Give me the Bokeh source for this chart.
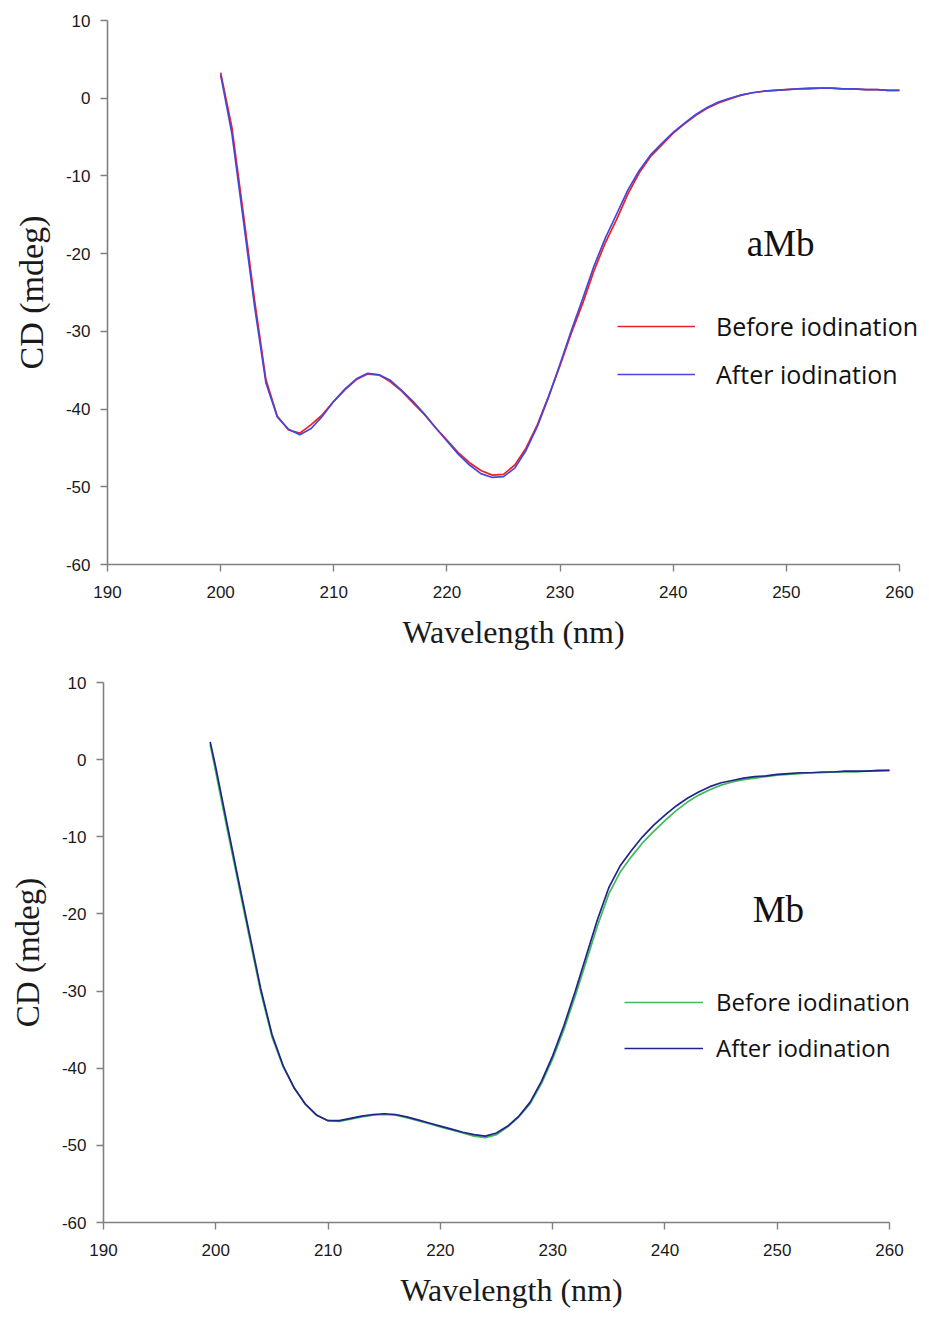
from bokeh.plotting import figure
from bokeh.models import Range1d, FixedTicker, Legend, LegendItem, Label
from bokeh.embed import file_html
from bokeh.resources import INLINE

# ---------------- data ----------------
x_ticks = [190, 200, 210, 220, 230, 240, 250, 260]
y_ticks = [10, 0, -10, -20, -30, -40, -50, -60]

# aMb panel
wl_amb = list(range(200, 261))
amb_before = [3.3, -3.8, -14.8, -26.0, -36.2, -40.9, -42.7, -43.1, -42.0, -40.7,
              -39.0, -37.5, -36.2, -35.5, -35.6, -36.5, -37.7, -39.2, -40.7, -42.4,
              -44.0, -45.6, -46.9, -47.9, -48.5, -48.4, -47.2, -45.0, -42.0, -38.3,
              -34.4, -30.2, -26.4, -22.2, -18.6, -15.6, -12.3, -9.6, -7.5, -6.0,
              -4.5, -3.3, -2.2, -1.3, -0.6, -0.1, 0.4, 0.7, 0.9, 1.0,
              1.1, 1.2, 1.2, 1.3, 1.3, 1.2, 1.2, 1.1, 1.1, 1.0, 1.0]
amb_after = [3.0, -4.6, -15.6, -26.8, -36.6, -41.0, -42.6, -43.3, -42.5, -40.9,
             -39.0, -37.4, -36.1, -35.4, -35.6, -36.3, -37.6, -39.0, -40.6, -42.4,
             -44.1, -45.8, -47.2, -48.3, -48.8, -48.7, -47.6, -45.3, -42.2, -38.4,
             -34.2, -29.9, -25.8, -21.6, -18.0, -14.9, -11.8, -9.3, -7.3, -5.8,
             -4.4, -3.2, -2.1, -1.2, -0.5, 0.0, 0.4, 0.7, 0.9, 1.0,
             1.1, 1.2, 1.3, 1.3, 1.3, 1.2, 1.2, 1.1, 1.1, 1.0, 1.0]

# Mb panel
wl_mb = [199.5] + list(range(200, 261))
mb_before = [2.0, -1.6, -8.9, -16.0, -23.1, -30.1, -35.9, -39.8, -42.6, -44.7, -46.1,
             -46.8, -46.9, -46.6, -46.3, -46.1, -46.0, -46.1, -46.4, -46.8, -47.2,
             -47.6, -48.0, -48.4, -48.8, -49.0, -48.6, -47.6, -46.3, -44.6, -42.0,
             -38.8, -35.0, -30.7, -26.1, -21.5, -17.4, -14.6, -12.6, -10.8, -9.3,
             -7.9, -6.6, -5.5, -4.6, -3.9, -3.3, -2.9, -2.6, -2.4, -2.2,
             -2.0, -1.9, -1.8, -1.7, -1.7, -1.6, -1.6, -1.6, -1.5, -1.5, -1.4]
mb_after = [2.3, -1.0, -8.3, -15.5, -22.6, -29.7, -35.6, -39.7, -42.6, -44.7, -46.1,
            -46.8, -46.8, -46.5, -46.2, -46.0, -45.9, -46.0, -46.3, -46.7, -47.1,
            -47.5, -47.9, -48.3, -48.6, -48.8, -48.4, -47.5, -46.2, -44.4, -41.7,
            -38.4, -34.5, -30.1, -25.4, -20.7, -16.6, -13.8, -11.8, -10.0, -8.5,
            -7.2, -6.0, -5.0, -4.2, -3.5, -3.0, -2.7, -2.4, -2.2, -2.1,
            -1.9, -1.8, -1.7, -1.7, -1.6, -1.6, -1.5, -1.5, -1.5, -1.4, -1.4]

series_labels = ["Before iodination", "After iodination"]

SANS = "Liberation Sans"
SERIF = "Liberation Serif"
LEGEND_FONT = "Open Sans"


def panel(wl, before, after, colors, name, name_xy, x_end, ylabel_size,
          legend_size, height, borders, legend_loc, glyph_w, standoff, spacing):
    top, right, bottom, left = borders
    p = figure(width=921, height=height, output_backend="svg", toolbar_location=None,
               x_range=Range1d(190, x_end), y_range=Range1d(-60, 10),
               min_border_top=top, min_border_right=right,
               min_border_bottom=bottom, min_border_left=left)
    p.outline_line_color = None
    p.xgrid.grid_line_color = None
    p.ygrid.grid_line_color = None
    p.background_fill_color = "white"
    p.border_fill_color = "white"

    for ax, ticks in ((p.xaxis, x_ticks), (p.yaxis, y_ticks)):
        ax.ticker = FixedTicker(ticks=ticks)
        ax.major_label_overrides = {t: str(t) for t in ticks}
        ax.minor_tick_line_color = None
        ax.axis_line_color = "#808080"
        ax.axis_line_width = 1.6
        ax.major_tick_line_color = "#808080"
        ax.major_tick_line_width = 1.4
        ax.major_tick_in = 0
        ax.major_tick_out = 7
        ax.major_label_text_font = SANS
        ax.major_label_text_font_size = "17px"
        ax.major_label_text_color = "#1a1a1a"
    p.xaxis.bounds = (190, 260)
    p.xaxis.major_label_standoff = 14
    p.yaxis.major_label_standoff = 10

    p.yaxis.axis_label = "CD (mdeg)"
    p.yaxis.axis_label_text_font = SERIF
    p.yaxis.axis_label_text_font_style = "normal"
    p.yaxis.axis_label_text_font_size = ylabel_size
    p.yaxis.axis_label_text_color = "#1a1a1a"
    p.yaxis.axis_label_standoff = 13

    p.xaxis.axis_label = "Wavelength (nm)"
    p.xaxis.axis_label_text_font = SERIF
    p.xaxis.axis_label_text_font_style = "normal"
    p.xaxis.axis_label_text_font_size = "32px"
    p.xaxis.axis_label_text_color = "#1a1a1a"
    p.xaxis.axis_label_standoff = 13

    r1 = p.line(wl, before, line_color=colors[0], line_width=1.7)
    r2 = p.line(wl, after, line_color=colors[1], line_width=1.7)

    legend = Legend(items=[LegendItem(label=series_labels[0], renderers=[r1]),
                           LegendItem(label=series_labels[1], renderers=[r2])],
                    location=legend_loc, glyph_width=glyph_w, glyph_height=24,
                    label_height=24, spacing=spacing, label_standoff=standoff,
                    padding=10, margin=0, border_line_alpha=0,
                    background_fill_alpha=0,
                    label_text_font=LEGEND_FONT, label_text_font_size=legend_size,
                    label_text_color="#111111")
    p.add_layout(legend, "center")

    p.add_layout(Label(x=name_xy[0], y=name_xy[1], text=name, text_font=SERIF,
                       text_font_size="37px", text_align="center",
                       text_baseline="middle", text_color="#111111"))
    return p


p1 = panel(wl_amb, amb_before, amb_after, ["#ee2020", "#4646dc"], "aMb",
           (249.5, -18.7), 261.77, "34px", "25px", 660, (20, 2, 96, 107),
           (500, 163), 78, 21, 14)
p2 = panel(wl_mb, mb_before, mb_after, ["#3dbb5c", "#22228a"], "Mb",
           (250.1, -19.45), 262.67, "33px", "24px", 650, (22, 2, 79, 103),
           (511, 148), 79, 13, 13)

open("out.html", "w").write(file_html([p1, p2], INLINE))
